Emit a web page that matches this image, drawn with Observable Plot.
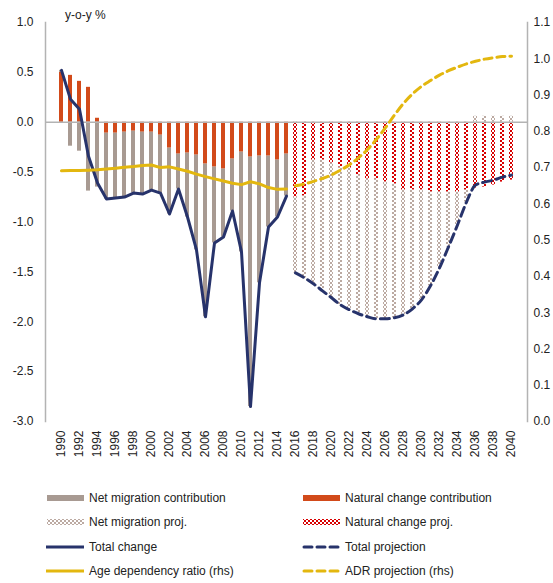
<!DOCTYPE html>
<html>
<head>
<meta charset="utf-8">
<script src="https://cdn.jsdelivr.net/npm/d3@7"></script>
<script src="https://cdn.jsdelivr.net/npm/@observablehq/plot@0.6"></script>
<style>
  body { margin: 0; background: white; font-family: "Liberation Sans", Arial, sans-serif; }
  #wrap { position: relative; width: 553px; height: 583px; }
  #ylab { position: absolute; left: 65px; top: 8px; font-size: 12px; color: #222; }
  .leg { position: absolute; font-size: 12px; color: #222; display: flex; align-items: center; height: 14px; }
  .leg svg { margin-right: 4px; }
</style>
</head>
<body>
<div id="wrap">
  <div id="chart"></div>
  <div id="ylab">y-o-y %</div>
  <div id="legend"></div>
</div>
<script>
// ---- data ----
const yearsHist = [1990,1991,1992,1993,1994,1995,1996,1997,1998,1999,2000,2001,2002,2003,2004,2005,2006,2007,2008,2009,2010,2011,2012,2013,2014,2015];
const yearsProj = [2016,2017,2018,2019,2020,2021,2022,2023,2024,2025,2026,2027,2028,2029,2030,2031,2032,2033,2034,2035,2036,2037,2038,2039,2040];
const xTickLabels = [1990,1992,1994,1996,1998,2000,2002,2004,2006,2008,2010,2012,2014,2016,2018,2020,2022,2024,2026,2028,2030,2032,2034,2036,2038,2040];
const leftTicks = [-3.0,-2.5,-2.0,-1.5,-1.0,-0.5,0.0,0.5,1.0];
const rightTicks = [0.0,0.1,0.2,0.3,0.4,0.5,0.6,0.7,0.8,0.9,1.0,1.1];

// historical contributions (y-o-y %)
const naturalHist = [0.50,0.47,0.41,0.35,0.04,-0.11,-0.11,-0.10,-0.09,-0.10,-0.10,-0.13,-0.26,-0.32,-0.31,-0.33,-0.42,-0.45,-0.47,-0.37,-0.30,-0.35,-0.34,-0.34,-0.38,-0.32];
const migrationHist = [0.02,-0.24,-0.29,-0.69,-0.65,-0.66,-0.65,-0.65,-0.62,-0.62,-0.58,-0.58,-0.66,-0.35,-0.64,-0.95,-1.53,-0.76,-0.68,-0.52,-1.00,-2.50,-1.27,-0.71,-0.57,-0.42];
const totalHist = [0.52,0.23,0.13,-0.34,-0.61,-0.77,-0.76,-0.75,-0.71,-0.72,-0.68,-0.71,-0.92,-0.67,-0.95,-1.28,-1.95,-1.21,-1.15,-0.89,-1.30,-2.85,-1.61,-1.05,-0.95,-0.74];
const adrHist = [0.691,0.692,0.692,0.693,0.694,0.696,0.698,0.701,0.703,0.706,0.707,0.700,0.702,0.696,0.690,0.682,0.675,0.669,0.663,0.657,0.653,0.661,0.655,0.645,0.640,0.641];

// projections
const naturalProj = [-0.75,-0.74,-0.38,-0.38,-0.41,-0.45,-0.46,-0.53,-0.57,-0.57,-0.60,-0.62,-0.68,-0.68,-0.68,-0.70,-0.70,-0.70,-0.70,-0.68,-0.66,-0.65,-0.63,-0.60,-0.58];
const migrationProj = [-0.76,-0.82,-1.24,-1.31,-1.35,-1.38,-1.42,-1.39,-1.38,-1.40,-1.37,-1.34,-1.25,-1.19,-1.10,-0.94,-0.76,-0.55,-0.33,-0.12,0.06,0.06,0.06,0.06,0.06];
const totalProj = [-1.51,-1.56,-1.62,-1.69,-1.76,-1.83,-1.88,-1.92,-1.95,-1.97,-1.97,-1.96,-1.93,-1.87,-1.78,-1.64,-1.46,-1.25,-1.03,-0.80,-0.63,-0.60,-0.58,-0.55,-0.53];
const adrProj = [0.650,0.655,0.662,0.670,0.680,0.693,0.708,0.727,0.750,0.778,0.810,0.845,0.877,0.903,0.924,0.940,0.955,0.967,0.977,0.986,0.993,0.999,1.003,1.006,1.007];

// ---- styles ----
const C = {
  mig: "#a89a92", nat: "#d24a1a", navy: "#27336b", yellow: "#e3b70f",
  natProjColor: "#d80000", migProjColor: "#bcaaa2", axis: "#b3b3b3"
};

// map right axis (ADR, 0..1.1) onto left axis (-3..1)
const L0 = -3, L1 = 1, R0 = 0, R1 = 1.1;
const toLeft = v => L0 + (v - R0) * (L1 - L0) / (R1 - R0);
const toRight = v => R0 + (v - L0) * (R1 - R0) / (L1 - L0);

const allYears = yearsHist.concat(yearsProj);
const bars = [];
yearsHist.forEach((y, i) => bars.push({year: y, value: naturalHist[i], kind: "nat"}));
yearsHist.forEach((y, i) => bars.push({year: y, value: migrationHist[i], kind: "mig"}));
yearsProj.forEach((y, i) => bars.push({year: y, value: naturalProj[i], kind: "natP"}));
yearsProj.forEach((y, i) => bars.push({year: y, value: migrationProj[i], kind: "migP"}));
const hist = yearsHist.map((y, i) => ({year: y, total: totalHist[i], adr: adrHist[i]}));
const proj = yearsProj.map((y, i) => ({year: y, total: totalProj[i], adr: adrProj[i]}));

const plot = Plot.plot({
  width: 553, height: 475,
  marginLeft: 45, marginRight: 26, marginTop: 22, marginBottom: 54,
  style: {fontFamily: "'Liberation Sans', Arial, sans-serif", fontSize: "12px", color: "#222", background: "white"},
  x: {type: "band", domain: allYears, paddingInner: 0.55, paddingOuter: 0.275, align: 0.5},
  y: {domain: [L0, L1]},
  color: {domain: ["nat","mig","natP","migP"], range: [C.nat, C.mig, "url(#chkRed)", "url(#chkGray)"]},
  marks: [
    Plot.barY(bars, Plot.stackY({x: "year", y: "value", fill: "kind"})),
    Plot.ruleY([0], {stroke: C.axis, strokeWidth: 1.5}),
    Plot.frame({anchor: "left", stroke: C.axis, strokeWidth: 1.5}),
    Plot.frame({anchor: "right", stroke: C.axis, strokeWidth: 1.5}),
    Plot.line(hist, {x: "year", y: "total", stroke: C.navy, strokeWidth: 3}),
    Plot.line(proj, {x: "year", y: "total", stroke: C.navy, strokeWidth: 3, strokeDasharray: "9,5", curve: "monotone-x"}),
    Plot.line(hist, {x: "year", y: d => toLeft(d.adr), stroke: C.yellow, strokeWidth: 3}),
    Plot.line(proj, {x: "year", y: d => toLeft(d.adr), stroke: C.yellow, strokeWidth: 3, strokeDasharray: "8,5", curve: "monotone-x"}),
    Plot.axisY({anchor: "left", ticks: leftTicks, tickFormat: d => d.toFixed(1), tickSize: 0, tickPadding: 12, label: null}),
    Plot.axisY({anchor: "right", ticks: rightTicks.map(toLeft), tickFormat: d => toRight(d).toFixed(1), tickSize: 0, tickPadding: 6, label: null}),
    Plot.axisX({ticks: xTickLabels, tickFormat: d => String(d), tickRotate: -90, tickSize: 0, tickPadding: 9, label: null})
  ]
});

const defsHTML = `
<pattern id="chkRed" patternUnits="userSpaceOnUse" width="4" height="4">
  <rect width="4" height="4" fill="white"/>
  <rect x="0" y="0" width="2" height="2" fill="${C.natProjColor}"/>
  <rect x="2" y="2" width="2" height="2" fill="${C.natProjColor}"/>
</pattern>
<pattern id="chkGray" patternUnits="userSpaceOnUse" width="4" height="4">
  <rect width="4" height="4" fill="white"/>
  <rect x="0" y="0" width="2" height="2" fill="${C.migProjColor}"/>
  <rect x="2" y="2" width="2" height="2" fill="${C.migProjColor}"/>
</pattern>`;
const defs = document.createElementNS("http://www.w3.org/2000/svg", "defs");
defs.innerHTML = defsHTML;
plot.insertBefore(defs, plot.firstChild);
document.getElementById("chart").appendChild(plot);

// ---- legend ----
const legendItems = [
  {label: "Net migration contribution", type: "bar", fill: C.mig, col: 0, row: 0},
  {label: "Natural change contribution", type: "bar", fill: C.nat, col: 1, row: 0},
  {label: "Net migration proj.", type: "bar", fill: "url(#chkGray)", col: 0, row: 1},
  {label: "Natural change proj.", type: "bar", fill: "url(#chkRed)", col: 1, row: 1},
  {label: "Total change", type: "line", stroke: C.navy, col: 0, row: 2},
  {label: "Total projection", type: "dash", stroke: C.navy, col: 1, row: 2},
  {label: "Age dependency ratio (rhs)", type: "line", stroke: C.yellow, col: 0, row: 3},
  {label: "ADR projection (rhs)", type: "dash", stroke: C.yellow, col: 1, row: 3}
];
const colX = [46, 302];
const rowY = [491, 515, 540, 564];
const leg = document.getElementById("legend");
legendItems.forEach(it => {
  const div = document.createElement("div");
  div.className = "leg";
  div.style.left = colX[it.col] + "px";
  div.style.top = rowY[it.row] + "px";
  let sw;
  if (it.type === "bar") {
    sw = `<svg width="39" height="8"><rect x="1" y="1" width="37" height="6" fill="${it.fill}"/></svg>`;
  } else if (it.type === "line") {
    sw = `<svg width="39" height="8"><line x1="0" x2="38" y1="4" y2="4" stroke="${it.stroke}" stroke-width="3"/></svg>`;
  } else {
    sw = `<svg width="39" height="8"><line x1="2" x2="37" y1="4" y2="4" stroke="${it.stroke}" stroke-width="3" stroke-dasharray="8,5" stroke-linecap="round"/></svg>`;
  }
  div.innerHTML = sw + `<span>${it.label}</span>`;
  leg.appendChild(div);
});
</script>
</body>
</html>
